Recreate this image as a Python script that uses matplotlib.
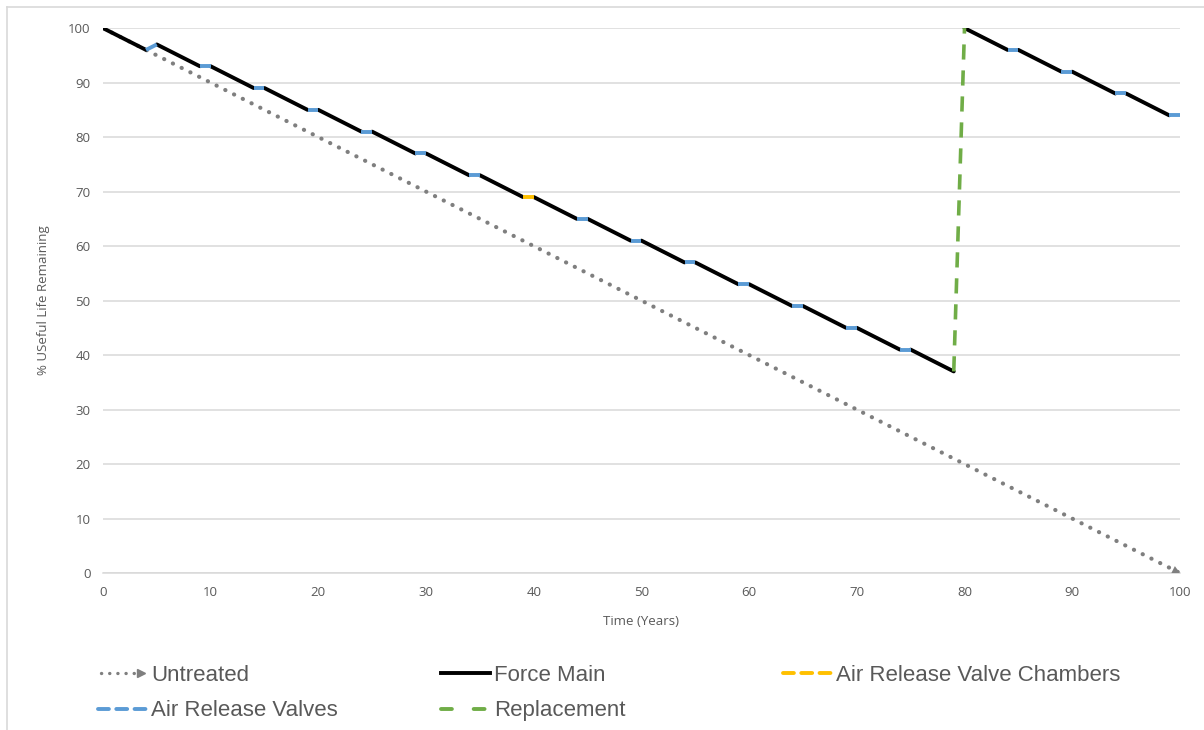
"""Useful life remaining of the force main, with and without treatment."""
import matplotlib
matplotlib.use("Agg")
import matplotlib.pyplot as plt
from matplotlib.lines import Line2D
from matplotlib.legend_handler import HandlerBase

# --- data ---
untreated_years = [0, 100]
untreated_life = [100, 0]

# sloped stretches of the force main (start, end pairs)
fm_years = [0, 4, 5, 9, 10, 14, 15, 19, 20, 24, 25, 29, 30, 34, 35, 39,
            40, 44, 45, 49, 50, 54, 55, 59, 60, 64, 65, 69, 70, 74, 75, 79,
            80, 84, 85, 89, 90, 94, 95, 99]
fm_life = [100, 96, 97, 93, 93, 89, 89, 85, 85, 81, 81, 77, 77, 73, 73, 69,
           69, 65, 65, 61, 61, 57, 57, 53, 53, 49, 49, 45, 45, 41, 41, 37,
           100, 96, 96, 92, 92, 88, 88, 84]

arv_start = [4, 9, 14, 19, 24, 29, 34, 44, 49, 54, 59, 64, 69, 74, 84, 89, 94, 99]
arv_end = [5, 10, 15, 20, 25, 30, 35, 45, 50, 55, 60, 65, 70, 75, 85, 90, 95, 100]
arv_life_start = [96, 93, 89, 85, 81, 77, 73, 65, 61, 57, 53, 49, 45, 41, 96, 92, 88, 84]
arv_life_end = [97, 93, 89, 85, 81, 77, 73, 65, 61, 57, 53, 49, 45, 41, 96, 92, 88, 84]

arvc_years = [39, 40]
arvc_life = [69, 69]

repl_years = [79, 80]
repl_life = [37, 100]

GRAY = "#7f7f7f"
BLUE = "#5b9bd5"
ORANGE = "#ffc000"
GREEN = "#70ad47"
TXT = "#595959"
LW = 2.8

fig = plt.figure(figsize=(12.04, 7.30), dpi=100)
ax = fig.add_axes([0.0855, 0.215, 0.8945, 0.7465])

ax.plot(untreated_years, untreated_life, color=GRAY, lw=3.0,
        linestyle=(0, (0.05, 2.3)), dash_capstyle="round", zorder=2)
ax.annotate("", xy=(untreated_years[-1], untreated_life[-1]),
            xytext=(-9, 4.6), textcoords="offset points",
            arrowprops=dict(arrowstyle="-|>,head_length=0.55,head_width=0.28",
                            color=GRAY, lw=0, shrinkA=0, shrinkB=0))

for i in range(0, len(fm_years), 2):
    ax.plot(fm_years[i:i + 2], fm_life[i:i + 2], color="black", lw=LW,
            solid_capstyle="round", zorder=3)

for x0, x1, y0, y1 in zip(arv_start, arv_end, arv_life_start, arv_life_end):
    ax.plot([x0, x1], [y0, y1], color=BLUE, lw=LW, solid_capstyle="butt", zorder=4)
ax.plot(arvc_years, arvc_life, color=ORANGE, lw=LW, solid_capstyle="butt", zorder=4)

ax.plot(repl_years, repl_life, color=GREEN, lw=2.6, linestyle=(0, (4.2, 3.0)),
        zorder=3)

ax.set_xlim(0, 100)
ax.set_ylim(0, 100)
ax.set_xticks(range(0, 101, 10))
ax.set_yticks(range(0, 101, 10))
ax.grid(axis="y", color="#d9d9d9", lw=1.1)
ax.set_axisbelow(True)
for side in ["top", "right", "left"]:
    ax.spines[side].set_visible(False)
ax.spines["bottom"].set_color("#d9d9d9")
ax.spines["bottom"].set_linewidth(1.1)
ax.tick_params(length=0, labelsize=9.5, labelcolor=TXT, pad=9)
for lab in ax.get_xticklabels() + ax.get_yticklabels():
    lab.set_fontfamily("Open Sans")
ax.set_xlabel("Time (Years)", fontsize=9.5, color=TXT, family="Open Sans", labelpad=12)
ax.set_ylabel("% USeful Life Remaining", fontsize=9.5, color=TXT, family="Open Sans",
              labelpad=13)


class DotArrow(HandlerBase):
    def create_artists(self, legend, orig, xd, yd, w, h, fontsize, trans):
        y = h / 2 - yd
        line = Line2D([-xd + 2, w - xd - 8], [y, y], color=GRAY, lw=2.4,
                      linestyle=(0, (0.05, 2.4)), dash_capstyle="round")
        head = Line2D([w - xd - 4], [y], marker=">", ms=5.5, color=GRAY, lw=0)
        line.set_transform(trans)
        head.set_transform(trans)
        return [line, head]


h_untr = Line2D([], [], color=GRAY)
h_fm = Line2D([], [], color="black", lw=LW)
h_arvc = Line2D([], [], color=ORANGE, lw=LW, linestyle=(0, (2.8, 1.9)),
                dash_capstyle="round")
h_arv = Line2D([], [], color=BLUE, lw=LW, linestyle=(0, (2.8, 1.9)),
               dash_capstyle="round")
h_repl = Line2D([], [], color=GREEN, lw=LW, linestyle=(0, (2.8, 5.6)),
                dash_capstyle="round")

# Excel-style legend: three equal-width columns below the plot
columns = [
    ([h_untr, h_arv], ["Untreated", "Air Release Valves"]),
    ([h_fm, h_repl], ["Force Main", "Replacement"]),
    ([h_arvc], ["Air Release Valve Chambers"]),
]
col_x = [98 / 1204, 441 / 1204, 783 / 1204]
for (hs, ls), x in zip(columns, col_x):
    fig.legend(hs, ls, loc="upper left", bbox_to_anchor=(x, 1 - 665 / 730),
               frameon=False, handlelength=2.2, handletextpad=0.2,
               labelspacing=0.65, borderpad=0, borderaxespad=0,
               prop={"family": "Liberation Sans", "size": 16},
               labelcolor=TXT, handler_map={h_untr: DotArrow()})

# thin frame along the top and left edge of the picture
fig.add_artist(Line2D([0.006, 1.0], [0.99, 0.99], color="#d9d9d9", lw=1.2,
                      transform=fig.transFigure))
fig.add_artist(Line2D([0.006, 0.006], [0.0, 0.99], color="#d9d9d9", lw=1.2,
                      transform=fig.transFigure))

fig.savefig("out.png", dpi=100)
